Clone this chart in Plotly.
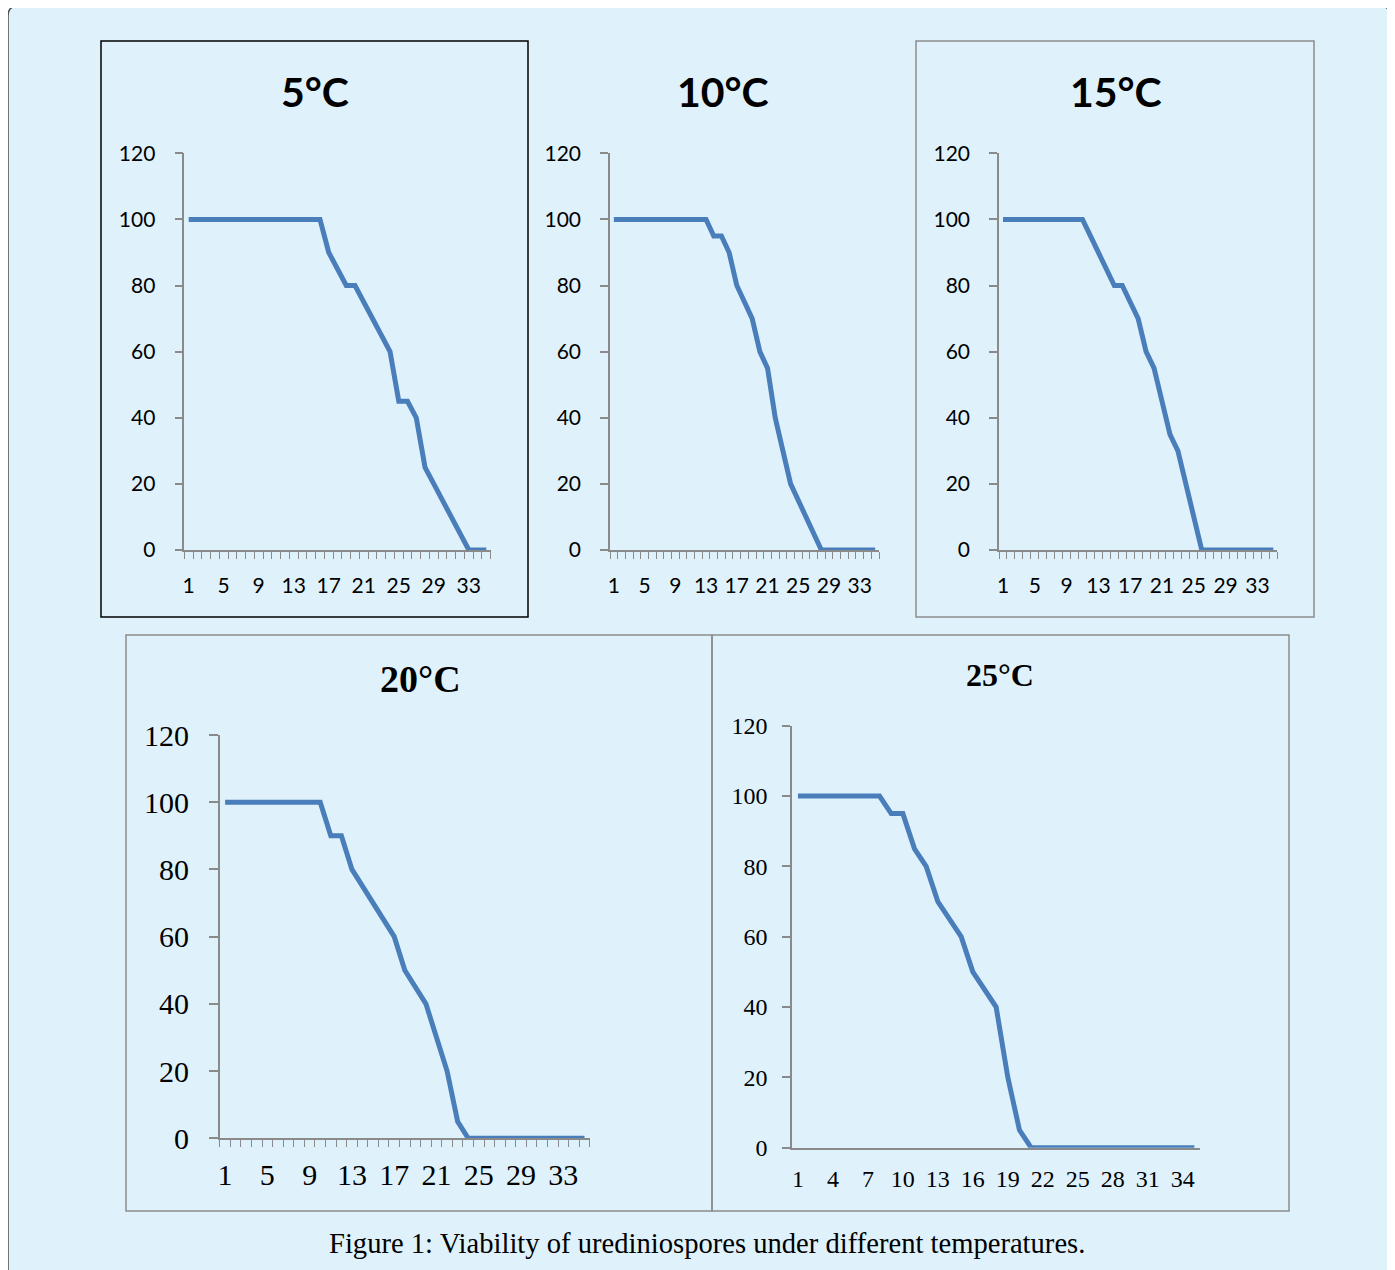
import plotly.graph_objects as go

# The page body has an 8px margin, so reference pixel coordinates are shifted
# by OFF; the figure runs to the right and bottom edges of the window.
OFF = 8
W, H = 1395 - OFF, 1270

# ---- data ----
days = list(range(1, 36))
titles = ["5°C", "10°C", "15°C", "20°C", "25°C"]
v5 = [100]*16 + [90, 85, 80, 80, 75, 70, 65, 60, 45, 45, 40, 25, 20, 15, 10, 5, 0, 0, 0]
v10 = [100]*13 + [95, 95, 90, 80, 75, 70, 60, 55, 40, 30, 20, 15, 10, 5] + [0]*8
v15 = [100]*11 + [95, 90, 85, 80, 80, 75, 70, 60, 55, 45, 35, 30, 20, 10] + [0]*10
v20 = [100]*10 + [90, 90, 80, 75, 70, 65, 60, 50, 45, 40, 30, 20, 5] + [0]*12
v25 = [100]*8 + [95, 95, 85, 80, 70, 65, 60, 50, 45, 40, 20, 5] + [0]*15
series = [v5, v10, v15, v20, v25]
xticks_a = [1, 5, 9, 13, 17, 21, 25, 29, 33]
xticks_b = [1, 4, 7, 10, 13, 16, 19, 22, 25, 28, 31, 34]
yticks = [0, 20, 40, 60, 80, 100, 120]
caption = "Figure 1: Viability of urediniospores under different temperatures."

BG = "#dff2fc"
LINE = "#4a7ebb"
AX = "#8a8a8a"

def px(x):
    return (x - OFF) / W

def py(y):
    return 1 - (y - OFF) / H

# plot areas in reference pixels: (x_left, x_right, y_top(120), y_bottom(0))
areas = [
    (184.3, 490.7, 153.3, 550.0),
    (610.0, 879.0, 153.3, 550.0),
    (999.0, 1277.3, 153.3, 550.0),
    (219.8, 589.8, 735.0, 1138.3),
    (792.1, 1200.2, 725.7, 1147.7),
]
sans = "Lato, Open Sans, sans-serif"
serif = "Liberation Serif, Times New Roman, serif"
tickfonts = [
    dict(family=sans, size=21, color="black"),
    dict(family=sans, size=21, color="black"),
    dict(family=sans, size=21, color="black"),
    dict(family=serif, size=30, color="black"),
    dict(family=serif, size=24, color="black"),
]
yticklen = [8, 8, 8, 9, 8]
ystand = [15, 15, 15, 14, 10]
xstand = [16, 16, 16, 9, 9]

fig = go.Figure()
layout = {}
for i, (vals, area) in enumerate(zip(series, areas)):
    n = "" if i == 0 else str(i + 1)
    fig.add_trace(go.Scatter(
        x=days, y=vals, mode="lines",
        line=dict(color=LINE, width=5),
        xaxis="x" + n, yaxis="y" + n, showlegend=False, hoverinfo="x+y",
    ))
    xl, xr, yt, yb = area
    xa = dict(
        domain=[px(xl), px(xr)], anchor="y" + n, range=[0.5, 35.5],
        showline=True, linecolor=AX, linewidth=1.5, showgrid=False, zeroline=False,
        tickmode="array", tickvals=xticks_a if i < 4 else xticks_b,
        ticks="", tickfont=tickfonts[i], ticklabelstandoff=xstand[i],
    )
    if i < 4:
        xa["minor"] = dict(tick0=0.5, dtick=1, ticks="outside", ticklen=7,
                           tickcolor=AX, tickwidth=1.3, showgrid=False)
    ya = dict(
        domain=[py(yb), py(yt)], anchor="x" + n, range=[0, 120],
        showline=True, linecolor=AX, linewidth=1.5, showgrid=False, zeroline=False,
        tickmode="array", tickvals=yticks, ticks="outside", ticklen=yticklen[i],
        tickcolor=AX, tickwidth=1.5, tickfont=tickfonts[i], ticklabelstandoff=ystand[i],
    )
    layout["xaxis" + n] = xa
    layout["yaxis" + n] = ya

fig.update_layout(**layout)

shapes = [
    # outer rounded panel (its bottom runs off the page)
    dict(type="path", xref="paper", yref="paper",
         path=f"M {px(8)},{py(1300)} L {px(8)},{py(16)} Q {px(8)},{py(6)} {px(18)},{py(6)} "
              f"L {px(1380)},{py(6)} Q {px(1390)},{py(6)} {px(1390)},{py(16)} L {px(1390)},{py(1300)} Z",
         fillcolor=BG, line=dict(color="#4d4d4d", width=1.5), layer="below"),
    dict(type="rect", xref="paper", yref="paper", x0=px(101), x1=px(528), y0=py(617), y1=py(41),
         line=dict(color="black", width=1.5), layer="below"),
    dict(type="rect", xref="paper", yref="paper", x0=px(916), x1=px(1314), y0=py(617), y1=py(41),
         line=dict(color="#8c8c8c", width=1.5), layer="below"),
    dict(type="rect", xref="paper", yref="paper", x0=px(126), x1=px(712), y0=py(1211), y1=py(635),
         line=dict(color="#8c8c8c", width=1.5), layer="below"),
    dict(type="rect", xref="paper", yref="paper", x0=px(712), x1=px(1289), y0=py(1211), y1=py(635),
         line=dict(color="#8c8c8c", width=1.5), layer="below"),
]

title_pos = [(315, 92), (723, 92), (1116, 92), (420, 679), (1000, 675)]
title_fonts = [
    dict(family=sans, size=41, color="black", weight="bold"),
    dict(family=sans, size=41, color="black", weight="bold"),
    dict(family=sans, size=41, color="black", weight="bold"),
    dict(family=serif, size=38, color="black", weight="bold"),
    dict(family=serif, size=32, color="black", weight="bold"),
]
annotations = []
for t, (tx, ty), f in zip(titles, title_pos, title_fonts):
    annotations.append(dict(text=t, x=px(tx), y=py(ty), xref="paper", yref="paper",
                            showarrow=False, xanchor="center", yanchor="middle", font=f))
annotations.append(dict(text=caption, x=px(707), y=py(1243), xref="paper", yref="paper",
                        showarrow=False, xanchor="center", yanchor="middle",
                        font=dict(family=serif, size=28.6, color="black")))

fig.update_layout(
    width=W, height=H, margin=dict(l=0, r=0, t=0, b=0, autoexpand=False),
    paper_bgcolor="rgba(0,0,0,0)", plot_bgcolor="rgba(0,0,0,0)",
    shapes=shapes, annotations=annotations, showlegend=False,
)

fig.write_html("out.html")
